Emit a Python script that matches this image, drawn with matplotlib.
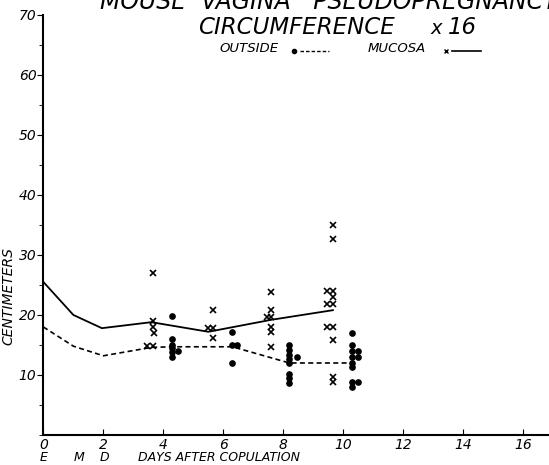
import numpy as np
import matplotlib.pyplot as plt
from matplotlib.ticker import MultipleLocator

# mucosa circumference (x marks, solid line)
mucosa_x = [3.65, 3.65, 3.65, 3.7, 3.45, 3.65,
            5.65, 5.5, 5.65, 5.65,
            7.6, 7.6, 7.45, 7.6, 7.6, 7.6, 7.6,
            9.65, 9.65, 9.45, 9.65, 9.65, 9.45, 9.65, 9.45, 9.65, 9.65, 9.65, 9.65]
mucosa_y = [27, 19, 18, 17, 14.8, 14.8,
            20.8, 17.8, 17.8, 16.2,
            23.8, 20.8, 19.7, 19.7, 18, 17.2, 14.7,
            35, 32.7, 24, 24, 23, 21.8, 21.8, 18, 18, 15.8, 9.7, 8.8]
mucosa_line_x = [0, 1, 1.95, 3.6, 5.5, 7.6, 9.65]
mucosa_line_y = [25.5, 20, 17.8, 18.8, 17.2, 19.2, 20.8]

# outside circumference (dots, dashed line)
outside_x = [4.3, 4.3, 4.3, 4.3, 4.5, 4.3, 4.3,
             6.3, 6.3, 6.45, 6.3,
             8.2, 8.2, 8.2, 8.45, 8.2, 8.2, 8.2, 8.2, 8.2,
             10.3, 10.3, 10.3, 10.5, 10.3, 10.5, 10.3, 10.3, 10.3, 10.5, 10.3]
outside_y = [19.8, 16, 15, 14.5, 14, 13.8, 13,
             17.2, 15, 15, 12,
             15, 14.2, 13.3, 13, 12.7, 12, 10.2, 9.5, 8.7,
             17, 15, 14, 14, 13, 13, 12, 11.3, 8.8, 8.8, 8]
outside_line_x = [0, 1, 2, 3.6, 4.3, 6.3, 8.2, 10.3]
outside_line_y = [18, 14.8, 13.2, 14.6, 14.7, 14.7, 12, 12]

x_ticks = [0, 2, 4, 6, 8, 10, 12, 14, 16]
y_ticks = [10, 20, 30, 40, 50, 60, 70]

plt.rcParams['font.family'] = ['DejaVu Sans']
plt.rcParams['font.style'] = 'italic'

fig = plt.figure(figsize=(5.49, 4.65), dpi=100)
ax = fig.add_axes([0.079, 0.0645, 0.921, 0.9035])

ax.plot(mucosa_line_x, mucosa_line_y, color='black', lw=1.3)
ax.plot(outside_line_x, outside_line_y, color='black', lw=1.2, linestyle=(0, (3, 2)))
ax.plot(mucosa_x, mucosa_y, 'x', color='black', ms=4.5, mew=1.2)
ax.plot(outside_x, outside_y, 'o', color='black', ms=3.8)

ax.set_xlim(0, 16.85)
ax.set_ylim(0, 70)
ax.set_xticks(x_ticks)
ax.set_yticks(y_ticks)
ax.yaxis.set_minor_locator(MultipleLocator(5))
ax.tick_params(axis='x', direction='in', length=4, labelsize=10, pad=2)
ax.tick_params(axis='y', direction='out', length=4, labelsize=10, pad=1)
ax.tick_params(axis='y', which='minor', direction='out', length=3)
for lab in ax.get_xticklabels() + ax.get_yticklabels():
    lab.set_style('italic')
for s in ['top', 'right']:
    ax.spines[s].set_visible(False)
ax.spines['left'].set_linewidth(1.5)
ax.spines['bottom'].set_linewidth(1.5)

ax.set_ylabel('CENTIMETERS', fontsize=10, style='italic', labelpad=-2)
ax.yaxis.set_label_coords(-0.055, 0.33)

yb = 1 - 457 / 465
fig.text(44 / 549, yb, 'E', fontsize=9, style='italic', ha='center', va='center')
fig.text(79 / 549, yb, 'M', fontsize=9, style='italic', ha='center', va='center')
fig.text(104 / 549, yb, 'D', fontsize=9, style='italic', ha='center', va='center')
fig.text(138 / 549, yb, 'DAYS AFTER COPULATION', fontsize=9, style='italic',
         ha='left', va='center')

fig.text(100 / 549, 1 - 9 / 465, 'MOUSE  VAGINA   PSEUDOPREGNANCY', fontsize=17,
         style='italic', ha='left', va='baseline')
fig.text(198 / 549, 1 - 28 / 465, 'CIRCUMFERENCE', fontsize=16.5,
         style='italic', ha='left', va='center')
fig.text(430 / 549, 1 - 28 / 465, 'x', fontsize=14, style='italic', ha='left', va='center')
fig.text(448 / 549, 1 - 28 / 465, '16', fontsize=16.5, style='italic', ha='left', va='center')

fig.text(219 / 549, 1 - 49 / 465, 'OUTSIDE', fontsize=9.5, style='italic', ha='left', va='center')
fig.text(368 / 549, 1 - 49 / 465, 'MUCOSA', fontsize=9.5, style='italic', ha='left', va='center')
fig.lines.append(plt.Line2D([294 / 549], [1 - 51 / 465], marker='o', ms=3, color='black',
                            transform=fig.transFigure))
fig.lines.append(plt.Line2D([300 / 549, 329 / 549], [1 - 51 / 465] * 2, color='black', lw=1,
                            linestyle=(0, (2.5, 1.5)), transform=fig.transFigure))
fig.lines.append(plt.Line2D([446 / 549], [1 - 51 / 465], marker='x', ms=3.5, mew=1, color='black',
                            transform=fig.transFigure))
fig.lines.append(plt.Line2D([452 / 549, 481 / 549], [1 - 51 / 465] * 2, color='black', lw=1.2,
                            transform=fig.transFigure))

fig.savefig('out.png', dpi=100, facecolor='white')
